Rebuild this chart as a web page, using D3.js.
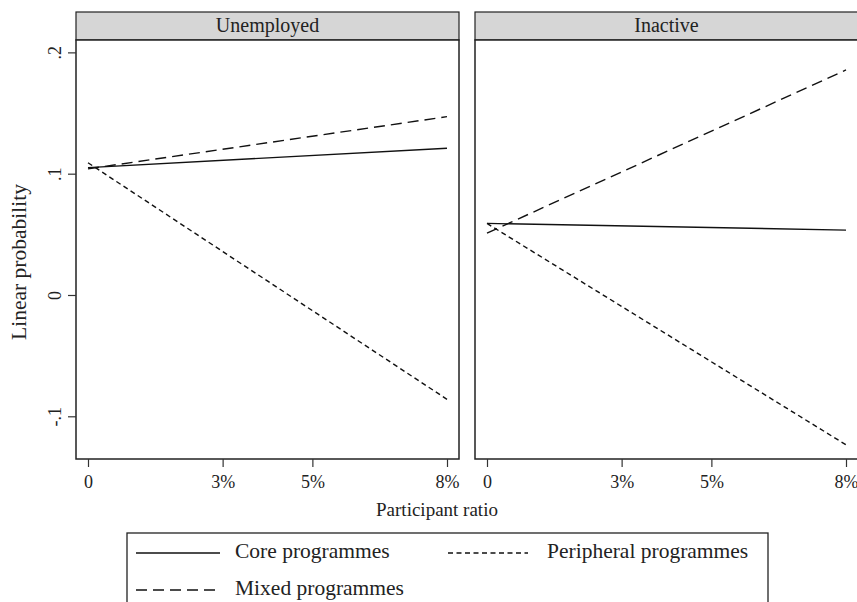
<!DOCTYPE html>
<html>
<head>
<meta charset="utf-8">
<script src="https://cdn.jsdelivr.net/npm/d3@7"></script>
<style>
  html, body { margin: 0; padding: 0; background: #fff; }
  svg { display: block; font-family: "Liberation Serif", "DejaVu Serif", serif; }
</style>
</head>
<body>
<svg id="chart" width="857" height="602"></svg>
<script>
// Panels, series and tick labels
const panels = ["Unemployed", "Inactive"];
const seriesNames = ["Core programmes", "Mixed programmes", "Peripheral programmes"];
const ratioEnds = [0, 8];
const ratioTicks = [0, 3, 5, 8];
const ratioLabels = ["0", "3%", "5%", "8%"];
const probTicks = [-0.1, 0, 0.1, 0.2];
const probLabels = ["-.1", "0", ".1", ".2"];

// Linear probability at participant ratio 0 and 8%
const unemployedCore = [0.105, 0.121];
const unemployedMixed = [0.104, 0.147];
const unemployedPeripheral = [0.109, -0.086];
const inactiveCore = [0.059, 0.0535];
const inactiveMixed = [0.051, 0.1855];
const inactivePeripheral = [0.059, -0.1235];

const panelValues = [
  [unemployedCore, unemployedMixed, unemployedPeripheral],
  [inactiveCore, inactiveMixed, inactivePeripheral]
];

const dashes = ["none", "11,6", "5,3.5"];
const serif = "Liberation Serif, DejaVu Serif, serif";

const svg = d3.select("#chart");
const panelLeft = [76, 475];
const panelW = 383;
const headTop = 12, plotTop = 40, plotBottom = 459;
const innerPad = 12;

const y = d3.scaleLinear().domain([-0.1352, 0.2102]).range([plotBottom, plotTop]);

panels.forEach((name, i) => {
  const x0 = panelLeft[i];
  const x = d3.scaleLinear().domain([0, 8]).range([x0 + innerPad, x0 + panelW - innerPad]);
  const g = svg.append("g");

  // header strip
  g.append("rect")
    .attr("x", x0).attr("y", headTop)
    .attr("width", panelW).attr("height", plotTop - headTop)
    .attr("fill", "#d6d6d6").attr("stroke", "#222").attr("stroke-width", 1.2);
  g.append("text")
    .attr("x", x0 + panelW / 2).attr("y", (headTop + plotTop) / 2 + 1)
    .attr("text-anchor", "middle").attr("dominant-baseline", "middle")
    .attr("font-size", 20).attr("fill", "#222")
    .text(name);

  // plot frame
  g.append("rect")
    .attr("x", x0).attr("y", plotTop)
    .attr("width", panelW).attr("height", plotBottom - plotTop)
    .attr("fill", "#fff").attr("stroke", "#222").attr("stroke-width", 1.5);

  // x axis
  const xAxis = d3.axisBottom(x).tickValues(ratioTicks)
    .tickFormat((d, k) => ratioLabels[k]).tickSize(8).tickPadding(8);
  const xa = g.append("g").attr("transform", `translate(0,${plotBottom})`).call(xAxis);
  xa.select(".domain").remove();
  xa.selectAll("line").attr("stroke", "#333").attr("stroke-width", 1.2);
  xa.selectAll("text").attr("font-size", 18).attr("fill", "#222")
    .attr("font-family", serif);

  // y axis on left panel only
  if (i === 0) {
    const yAxis = d3.axisLeft(y).tickValues(probTicks)
      .tickFormat((d, k) => probLabels[k]).tickSize(8).tickPadding(0);
    const ya = g.append("g").attr("transform", `translate(${x0},0)`).call(yAxis);
    ya.select(".domain").remove();
    ya.selectAll("line").attr("stroke", "#333").attr("stroke-width", 1.2);
    ya.selectAll("text")
      .attr("font-size", 18).attr("fill", "#222")
      .attr("font-family", serif)
      .attr("text-anchor", "middle").attr("x", null).attr("dy", null)
      .attr("transform", "translate(-15,0) rotate(-90)");
  }

  // fitted lines
  const line = d3.line().x(d => x(d[0])).y(d => y(d[1]));
  panelValues[i].forEach((vals, s) => {
    g.append("path")
      .datum(ratioEnds.map((r, k) => [r, vals[k]]))
      .attr("d", line)
      .attr("fill", "none").attr("stroke", "#111")
      .attr("stroke-width", 1.4)
      .attr("stroke-dasharray", dashes[s]);
  });
});

// axis titles
svg.append("text")
  .attr("x", 437).attr("y", 512)
  .attr("text-anchor", "middle").attr("dominant-baseline", "middle")
  .attr("font-size", 19).attr("fill", "#222")
  .text("Participant ratio");

svg.append("text")
  .attr("transform", "translate(21,262) rotate(-90)")
  .attr("text-anchor", "middle").attr("dominant-baseline", "middle")
  .attr("font-size", 21.5).attr("fill", "#222")
  .text("Linear probability");

// legend
const legend = svg.append("g");
legend.append("rect")
  .attr("x", 127).attr("y", 533).attr("width", 641).attr("height", 90)
  .attr("fill", "#fff").attr("stroke", "#222").attr("stroke-width", 1.3);

const legendPos = [
  { x1: 136, x2: 220, tx: 235, y: 553 },
  { x1: 136, x2: 220, tx: 235, y: 590 },
  { x1: 448, x2: 528, tx: 547, y: 553 }
];
seriesNames.forEach((nm, s) => {
  const p = legendPos[s];
  legend.append("line")
    .attr("x1", p.x1).attr("x2", p.x2).attr("y1", p.y).attr("y2", p.y)
    .attr("stroke", "#111").attr("stroke-width", 1.4)
    .attr("stroke-dasharray", dashes[s]);
  legend.append("text")
    .attr("x", p.tx).attr("y", p.y)
    .attr("dominant-baseline", "middle")
    .attr("font-size", 21.5).attr("fill", "#222")
    .text(nm);
});
</script>
</body>
</html>
